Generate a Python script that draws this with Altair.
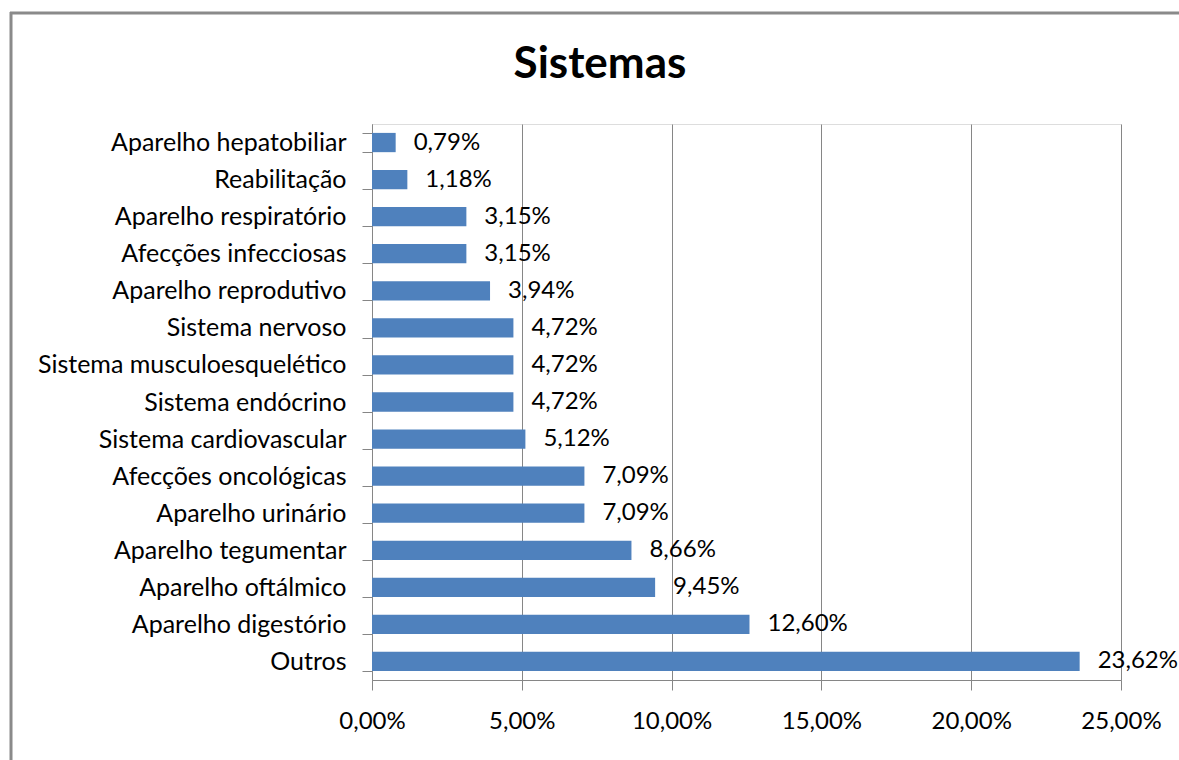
import altair as alt
import pandas as pd

categories = [
    "Aparelho hepatobiliar", "Reabilitação", "Aparelho respiratório",
    "Afecções infecciosas\u00a0", "Aparelho reprodutivo", "Sistema nervoso",
    "Sistema musculoesquelético", "Sistema endócrino", "Sistema cardiovascular",
    "Afecções oncológicas", "Aparelho urinário", "Aparelho tegumentar",
    "Aparelho oftálmico", "Aparelho digestório\u00a0", "Outros",
]
values = [0.79, 1.18, 3.15, 3.15, 3.94, 4.72, 4.72, 4.72, 5.12, 7.09, 7.09, 8.66, 9.45, 12.60, 23.62]
x_ticks = [0, 5, 10, 15, 20, 25]
title_text = "Sistemas"

df = pd.DataFrame({"cat": categories, "v": values})
one = pd.DataFrame({"a": [0]})

FONT = "Lato"
GRAY = "#868686"

y_enc = alt.Y("cat:N", sort=categories,
              scale=alt.Scale(paddingInner=0.48, paddingOuter=0.24),
              axis=alt.Axis(title=None, tickBand="extent", tickSize=10, tickColor=GRAY,
                            domainColor=GRAY, labelFont=FONT, labelFontSize=25,
                            labelColor="black", labelPadding=16, labelLimit=0, grid=False))
x_enc = alt.X("v:Q", scale=alt.Scale(domain=[0, 25], nice=False),
              axis=alt.Axis(title=None, values=x_ticks, grid=True, gridColor=GRAY,
                            domainColor=GRAY, tickColor=GRAY, tickSize=10,
                            labelFont=FONT, labelFontSize=24, labelColor="black",
                            labelPadding=19, labelFlush=False, labelOverlap=False,
                            labelExpr="replace(format(datum.value, '.2f'), '.', ',') + '%'"))

base = alt.Chart(df)
bars = base.mark_bar(color="#4F81BD").encode(x=x_enc, y=y_enc)
labels = base.transform_calculate(
    lab="replace(format(datum.v, '.2f'), '.', ',') + '%'"
).mark_text(align="left", baseline="middle", dx=18, font=FONT, fontSize=24, color="black").encode(
    x="v:Q", y=alt.Y("cat:N", sort=categories), text="lab:N")

title = alt.Chart(one).mark_text(text=title_text, font=FONT, fontSize=44, fontWeight="bold",
                                 color="black", baseline="middle", align="center").encode(
    x=alt.value(228), y=alt.value(-59))
frame_left = alt.Chart(one).mark_rule(color="#8a8a8a", strokeWidth=3).encode(
    x=alt.value(-361), y=alt.value(-112), y2=alt.value(700))
frame_top = alt.Chart(one).mark_rule(color="#8a8a8a", strokeWidth=3).encode(
    x=alt.value(-362), x2=alt.value(820), y=alt.value(-111))

chart = alt.layer(bars, labels, title, frame_left, frame_top).properties(
    width=749, height=556,
    autosize=alt.AutoSizeParams(type="none"),
    padding={"left": 372, "top": 124, "right": 58, "bottom": 80},
).configure_view(stroke=None).configure(background="white")

chart.save("out.html", embed_options={"renderer": "svg", "actions": False})
